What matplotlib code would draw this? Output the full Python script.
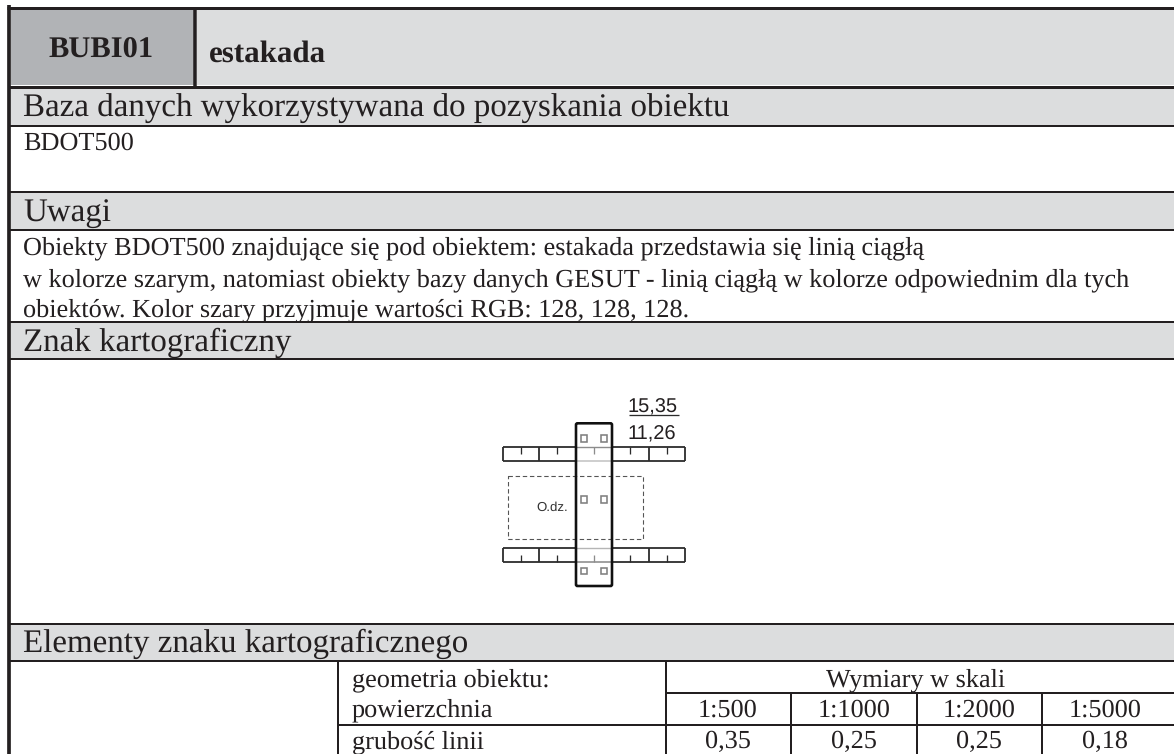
import matplotlib
matplotlib.use("Agg")
import matplotlib.pyplot as plt
from matplotlib.patches import Rectangle, FancyBboxPatch

plt.rcParams['font.family'] = ['Liberation Serif', 'DejaVu Serif']
plt.rcParams['text.hinting'] = 'no_hinting'
INK = '#231f20'
BAND = '#dcddde'
CODE = '#b1b3b6'
W, H = 1174, 754

code_label = "BUBI01"
name_label = "estakada"
section_titles = ["Baza danych wykorzystywana do pozyskania obiektu", "Uwagi",
                  "Znak kartograficzny", "Elementy znaku kartograficznego"]
source_text = "BDOT500"
note_lines = ["Obiekty BDOT500 znajdujące się pod obiektem: estakada przedstawia się linią ciągłą",
              "w kolorze szarym, natomiast obiekty bazy danych GESUT - linią ciągłą w kolorze odpowiednim dla tych",
              "obiektów. Kolor szary przyjmuje wartości RGB: 128, 128, 128."]
geom_labels = ["geometria obiektu:", "powierzchnia", "grubość linii"]
dim_header = "Wymiary w skali"
scales = ["1:500", "1:1000", "1:2000", "1:5000"]
thickness = ["0,35", "0,25", "0,25", "0,18"]
sym_top, sym_bottom, sym_label = "15,35", "11,26", "O.dz."

fig = plt.figure(figsize=(W/100, H/100), dpi=100)
ax = fig.add_axes([0, 0, 1, 1])
ax.set_xlim(0, W); ax.set_ylim(H, 0); ax.axis('off')
px = 0.72  # points per pixel
TITLE, BODY = 33, 26.3

def band(x0, y0, x1, y1, c):
    ax.add_patch(Rectangle((x0, y0), x1-x0, y1-y0, fc=c, ec='none', zorder=0))
def hl(y, x0=9, x1=W, w=2.0, c=INK, **k):
    ax.plot([x0, x1], [y, y], color=c, lw=w*px, solid_capstyle='butt', **k)
def vl(x, y0, y1, w=2.0, c=INK, **k):
    ax.plot([x, x], [y0, y1], color=c, lw=w*px, solid_capstyle='butt', **k)
def txt(x, y, s, size=BODY, ha='left', **k):
    ax.text(x, y, s, fontsize=size*px, ha=ha, va='baseline', color=INK, **k)

# bands
band(11, 9, 194, 85, CODE)
band(197, 9, W, 85, BAND)
for y0, y1 in [(88, 125), (193, 229), (322, 358), (624, 660)]:
    band(11, y0, W, y1, BAND)

# frame lines
vl(9, 5, H, w=3.7)
hl(7.5, x0=7, w=3)
hl(86.5, w=3)
vl(195, 7, 88, w=3.5)
hl(126, w=2)
hl(192, w=2)
hl(229.5, w=2)
hl(322, w=2)
hl(359, w=2)
hl(623.5, w=2)
hl(661, w=2)

# table grid
hl(724.5, x0=337, w=2)
hl(692.5, x0=665, w=2)
vl(337.5, 661, H, w=2)
vl(665.5, 661, H, w=2)
for x in (791, 916.5, 1042):
    vl(x, 692, H, w=2)

# header text
txt(101, 58, code_label, size=30.5, ha='center', fontweight='bold')
txt(209, 62, name_label, size=31, fontweight='bold')
txt(23, 117, section_titles[0], size=TITLE)
txt(23, 150, source_text)
txt(23, 221, section_titles[1], size=TITLE)
for y, s in zip((254, 286, 316), note_lines):
    txt(23, y, s)
txt(23, 351, section_titles[2], size=TITLE)
txt(23, 652, section_titles[3], size=TITLE)

for y, s in zip((686, 716, 748), geom_labels):
    txt(351.5, y, s)
txt(916, 686, dim_header, ha='center')
for x, a, b in zip((728, 854, 979, 1105), scales, thickness):
    txt(x, 717, a, ha='center')
    txt(x, 748, b, ha='center')

# cartographic symbol
SK = '#2b2b2b'
GR = '#8c8c8c'
def sym_line(x0, y0, x1, y1, c=SK, w=1.4, **k):
    ax.plot([x0, x1], [y0, y1], color=c, lw=w*px, solid_capstyle='butt', **k)
# dashed object
ax.add_patch(Rectangle((508.3, 476.3), 134.4, 63, fc='none', ec='#555555', lw=1.1*px, ls=(0, (4, 2.5))))
# strips
for top, bot, tick_up in [(446.7, 461, True), (547.7, 562, False)]:
    for x0, x1 in [(502.7, 576), (612, 685.3)]:
        sym_line(x0, top, x1, top, w=1.8)
        sym_line(x0, bot, x1, bot, w=1.8)
    sym_line(576, top, 612, top, c=GR if tick_up else '#b5b5b5', w=1.4)
    sym_line(576, bot, 612, bot, c='#c4c4c4' if tick_up else GR, w=1.6)
    for x in (502.7, 539.3, 649, 685.3):
        sym_line(x, top, x, bot, w=1.8)
    for x in (520.7, 557, 594, 630, 667):
        c = GR if x == 594 else SK
        if tick_up:
            sym_line(x, top, x, top+7, c=c, w=1.3)
        else:
            sym_line(x, bot-7, x, bot, c=c, w=1.3)
# carriageway outline
ax.add_patch(FancyBboxPatch((576, 423.3), 36, 162.7, boxstyle="round,pad=0,rounding_size=1.5",
                            fc='none', ec='#111111', lw=2.6*px, zorder=4))
# small squares
for y in (438.5, 499.5, 570.7):
    for x in (583.7, 604):
        ax.add_patch(Rectangle((x-3.2, y-3.2), 6.4, 6.4, fc='none', ec='#808080', lw=1.6*px, zorder=4))
# labels
ax.text(552, 511, sym_label, fontsize=13.2*px, family='Liberation Sans', ha='center', va='baseline', color='#333333')
ax.text(652.2, 412, sym_top, fontsize=20*px, family='Liberation Sans', ha='center', va='baseline', color=INK)
ax.text(652.2, 439.3, sym_bottom, fontsize=20*px, family='Liberation Sans', ha='center', va='baseline', color=INK)
sym_line(629, 415.3, 679.3, 415.3, w=1.3)

fig.savefig('out.png', dpi=100, facecolor='white')
